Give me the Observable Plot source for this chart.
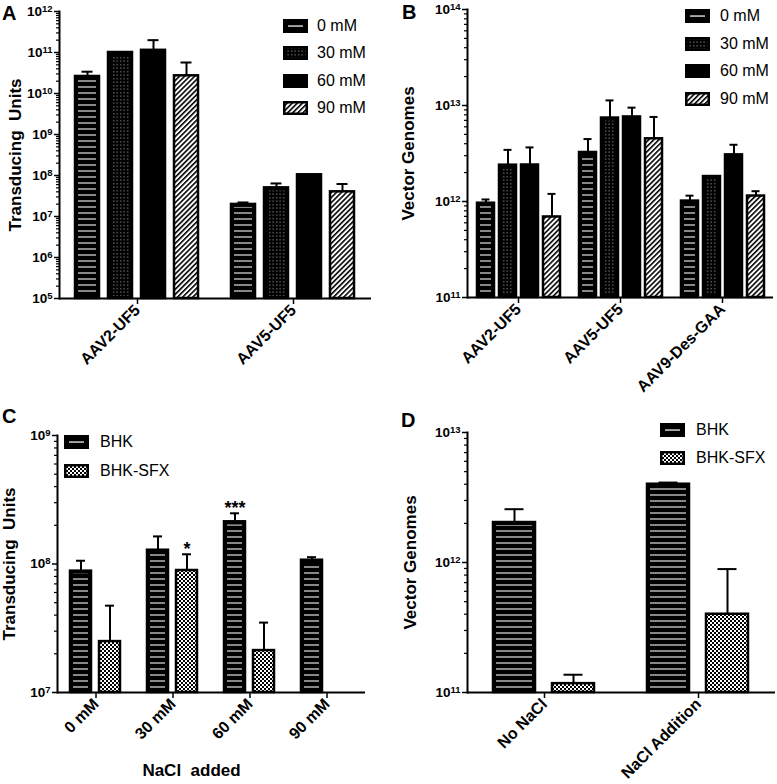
<!DOCTYPE html>
<html><head><meta charset="utf-8">
<script src="https://cdn.jsdelivr.net/npm/d3@7"></script>
<script src="https://cdn.jsdelivr.net/npm/@observablehq/plot@0.6"></script>
<style>
body{margin:0;background:#fff;font-family:"Liberation Sans",Arial,sans-serif;color:#000;}
#root{position:relative;width:777px;height:784px;overflow:hidden;background:#fff;}
.letter{position:absolute;font-weight:bold;font-size:20px;line-height:20px;}
.lgtext{position:absolute;font-size:16px;line-height:16px;white-space:nowrap;}
svg{overflow:visible;}
</style></head>
<body><div id="root">
<svg width="0" height="0" style="position:absolute"><defs>
<pattern id="p-lines" patternUnits="userSpaceOnUse" width="6" height="6"><rect x="0" y="2.4" width="6" height="1.2" fill="#e0e0e0"/></pattern>
<pattern id="p-dots" patternUnits="userSpaceOnUse" width="3.5" height="3.5"><rect x="1.2" y="1.2" width="1" height="1" fill="#c8c8c8"/></pattern>
<pattern id="p-dots-full" patternUnits="userSpaceOnUse" width="3.5" height="3.5"><rect width="3.5" height="3.5" fill="#000"/><rect x="1.2" y="1.2" width="1" height="1" fill="#c8c8c8"/></pattern>
<pattern id="p-hatch" patternUnits="userSpaceOnUse" width="3.6" height="3.6" patternTransform="rotate(45)"><rect width="3.6" height="3.6" fill="#fff"/><rect x="0" y="0" width="1.6" height="3.6" fill="#000"/></pattern>
<pattern id="p-check" patternUnits="userSpaceOnUse" width="4" height="4"><rect width="4" height="4" fill="#fff"/><rect x="0" y="0" width="2" height="2" fill="#000"/><rect x="2" y="2" width="2" height="2" fill="#000"/></pattern>
</defs></svg>
</div>
<script>
// ---------- DATA ----------
const seriesNaCl = ["0 mM", "30 mM", "60 mM", "90 mM"];
const fillNaCl = ["black", "black", "black", "url(#p-hatch)"];
const legendFillNaCl = ["black", "url(#p-dots-full)", "black", "url(#p-hatch)"];
const overlayNaCl = ["url(#p-lines)", "url(#p-dots)", null, null];
const seriesCell = ["BHK", "BHK-SFX"];
const fillCell = ["black", "url(#p-check)"];
const overlayCell = ["url(#p-lines)", null];

// Panel A: Transducing Units
const groupsA = ["AAV2-UF5", "AAV5-UF5"];
const meanA_AAV2 = [2.6e10, 1.0e11, 1.13e11, 2.7e10];
const errA_AAV2  = [3.4e10, 1.03e11, 2.0e11, 5.7e10];
const meanA_AAV5 = [1.97e7, 5.0e7, 1.04e8, 4.0e7];
const errA_AAV5  = [2.2e7, 6.4e7, null, 6.2e7];
const domainA = [1e5, 1e12];

// Panel B: Vector Genomes
const groupsB = ["AAV2-UF5", "AAV5-UF5", "AAV9-Des-GAA"];
const meanB_AAV2 = [9.6e11, 2.39e12, 2.4e12, 6.9e11];
const errB_AAV2  = [1.05e12, 3.45e12, 3.66e12, 1.2e12];
const meanB_AAV5 = [3.24e12, 7.4e12, 7.6e12, 4.5e12];
const errB_AAV5  = [4.47e12, 1.13e13, 9.5e12, 7.6e12];
const meanB_AAV9 = [1.01e12, 1.82e12, 3.06e12, 1.14e12];
const errB_AAV9  = [1.15e12, null, 3.9e12, 1.28e12];
const domainB = [1e11, 1e14];

// Panel C: Transducing Units vs NaCl added
const groupsC = ["0 mM", "30 mM", "60 mM", "90 mM"];
const meanC_BHK = [8.8e7, 1.28e8, 2.13e8, 1.07e8];
const errC_BHK  = [1.06e8, 1.64e8, 2.48e8, 1.13e8];
const meanC_SFX = [2.49e7, 8.9e7, 2.12e7, null];
const errC_SFX  = [4.74e7, 1.19e8, 3.5e7, null];
const starGroupsC = ["30 mM", "60 mM"];
const starSeriesC = ["BHK-SFX", "BHK"];
const starLabelsC = ["*", "***"];
const domainC = [1e7, 1e9];

// Panel D: Vector Genomes
const groupsD = ["No NaCl", "NaCl Addition"];
const meanD_BHK = [2.03e12, 4.0e12];
const errD_BHK  = [2.57e12, 4.12e12];
const meanD_SFX = [1.17e11, 4.0e11];
const errD_SFX  = [1.37e11, 8.9e11];
const domainD = [1e11, 1e13];

// ---------- BUILD ----------
const root = document.getElementById("root");
const svgNS = "http://www.w3.org/2000/svg";

function rowsByGroup(groups, series, means, errs) {
  return groups.flatMap((g, i) => series.map((s, j) => ({group: g, series: s, value: means[i][j], err: errs[i][j]})))
    .filter(d => d.value != null);
}
function rowsBySeries(groups, series, means, errs) {
  return series.flatMap((s, j) => groups.map((g, i) => ({group: g, series: s, value: means[j][i], err: errs[j][i]})))
    .filter(d => d.value != null);
}

function setSize(sel, svg, size) {
  svg.querySelectorAll(sel).forEach(g => {
    g.setAttribute("font-size", size);
    g.querySelectorAll("text").forEach(t => t.setAttribute("font-size", size));
  });
}

function panel(cfg) {
  const {groups, series, fills, overlays, rows, domain, cap, pi, po, layout, yLabel, yLabelOffset, fxLabel, stars} = cfg;
  const lo = Math.round(Math.log10(domain[0])), hi = Math.round(Math.log10(domain[1]));
  const majors = d3.range(lo, hi + 1).map(e => Math.pow(10, e));
  const minors = d3.range(lo, hi).flatMap(e => d3.range(2, 10).map(k => k * Math.pow(10, e)));
  const withErr = rows.filter(d => d.err != null);
  const marks = [
    Plot.barY(rows, {fx: "group", x: "series", y1: domain[0], y2: "value", fill: "series", stroke: "black", strokeWidth: 2.5})
  ];
  series.forEach((s, j) => {
    if (!overlays[j]) return;
    marks.push(Plot.barY(rows.filter(d => d.series === s), {fx: "group", x: "series", y1: domain[0], y2: "value",
      fill: overlays[j], insetLeft: 3, insetRight: 3, insetTop: 3, insetBottom: 2}));
  });
  marks.push(
    Plot.ruleX(withErr, {fx: "group", x: "series", y1: "value", y2: "err", strokeWidth: 2}),
    Plot.tickY(withErr, {fx: "group", x: "series", y: "err", strokeWidth: 2, insetLeft: cap, insetRight: cap}),
    Plot.ruleY([domain[0]], {strokeWidth: 2}),
    Plot.frame({anchor: "left", facetAnchor: "left", strokeWidth: 2}),
    Plot.axisY(majors, {tickSize: 5, tickPadding: 2, strokeWidth: 1.5,
      tickFormat: d => "10^" + Math.round(Math.log10(d)),
      label: yLabel, labelAnchor: "center", labelOffset: yLabelOffset, labelArrow: "none"}),
    Plot.axisY(minors, {tickSize: 3, strokeWidth: 1.2, tickFormat: () => "", label: null}),
    Plot.axisFx({anchor: "bottom", tickRotate: -45, tickSize: 6, tickPadding: 3, strokeWidth: 1.5,
      label: fxLabel || null, labelAnchor: "center", labelOffset: layout.fxLabelOffset || 80, labelArrow: "none"})
  );
  if (stars) {
    marks.push(Plot.text(stars, {fx: "group", x: "series", y: "y", text: "label", dy: -5, fontSize: 18, fontWeight: "bold"}));
  }
  const svg = Plot.plot({
    width: layout.w, height: layout.h,
    marginLeft: layout.ml, marginTop: layout.mt, marginRight: layout.mr, marginBottom: layout.mb,
    style: {fontFamily: "'Liberation Sans', Arial, sans-serif", fontSize: "13px", fontWeight: "bold", color: "black", background: "transparent", overflow: "visible"},
    fx: {domain: groups, padding: 0, label: null},
    x: {domain: series, paddingInner: pi, paddingOuter: po, axis: null},
    y: {type: "log", domain},
    color: {domain: series, range: fills},
    marks
  });
  setSize('[aria-label="y-axis tick label"]', svg, "13.5px");
  setSize('[aria-label="fx-axis tick label"]', svg, "16px");
  setSize('[aria-label="y-axis label"], [aria-label="fx-axis label"]', svg, "17px");
  // superscript exponents
  svg.querySelectorAll('[aria-label="y-axis tick label"] text').forEach(t => {
    const m = /^10\^(\d+)$/.exec(t.textContent);
    if (!m) return;
    t.textContent = "10";
    const ts = document.createElementNS(svgNS, "tspan");
    ts.setAttribute("dy", "-0.45em");
    ts.setAttribute("font-size", "9.5px");
    ts.textContent = m[1];
    t.appendChild(ts);
  });
  if (layout.fxLabelDx) {
    svg.querySelectorAll('[aria-label="fx-axis label"]').forEach(g => {
      const tr = g.getAttribute("transform") || "";
      g.setAttribute("transform", `translate(${layout.fxLabelDx},0) ${tr}`);
    });
  }
  svg.style.position = "absolute";
  svg.style.left = layout.left + "px";
  svg.style.top = layout.top + "px";
  root.appendChild(svg);
}

function letter(txt, left, top) {
  const d = document.createElement("div");
  d.className = "letter"; d.textContent = txt;
  d.style.left = left + "px"; d.style.top = top + "px";
  root.appendChild(d);
}

function legend(series, fills, stripe, x, y0, step, textX) {
  series.forEach((s, i) => {
    const cy = y0 + i * step;
    const sw = document.createElementNS(svgNS, "svg");
    sw.setAttribute("width", 25); sw.setAttribute("height", 14);
    sw.style.position = "absolute"; sw.style.left = x + "px"; sw.style.top = (cy - 7) + "px";
    const r = document.createElementNS(svgNS, "rect");
    r.setAttribute("x", 1.25); r.setAttribute("y", 1.25); r.setAttribute("width", 22.5); r.setAttribute("height", 11.5);
    r.setAttribute("fill", fills[i]); r.setAttribute("stroke", "black"); r.setAttribute("stroke-width", 2.5);
    sw.appendChild(r);
    if (s === stripe) {
      const l = document.createElementNS(svgNS, "rect");
      l.setAttribute("x", 5); l.setAttribute("y", 6.4); l.setAttribute("width", 15); l.setAttribute("height", 1.3);
      l.setAttribute("fill", "#eee");
      sw.appendChild(l);
    }
    root.appendChild(sw);
    const t = document.createElement("div");
    t.className = "lgtext"; t.textContent = s;
    t.style.left = textX + "px"; t.style.top = (cy - 8) + "px";
    root.appendChild(t);
  });
}

// Panel A
panel({
  groups: groupsA, series: seriesNaCl, fills: fillNaCl, overlays: overlayNaCl,
  rows: rowsByGroup(groupsA, seriesNaCl, [meanA_AAV2, meanA_AAV5], [errA_AAV2, errA_AAV5]),
  domain: domainA, cap: 6.5, pi: 0.26, po: 0.45,
  yLabel: "Transducing  Units", yLabelOffset: 51,
  layout: {left: 0, top: 0, w: 390, h: 390, ml: 59, mt: 11, mr: 19, mb: 92}
});
// Panel B
panel({
  groups: groupsB, series: seriesNaCl, fills: fillNaCl, overlays: overlayNaCl,
  rows: rowsByGroup(groupsB, seriesNaCl, [meanB_AAV2, meanB_AAV5, meanB_AAV9], [errB_AAV2, errB_AAV5, errB_AAV9]),
  domain: domainB, cap: 4.5, pi: 0.24, po: 0.405,
  yLabel: "Vector Genomes", yLabelOffset: 66,
  layout: {left: 390, top: 0, w: 387, h: 390, ml: 77, mt: 9, mr: 4, mb: 93}
});
// Panel C
const rowsC = rowsBySeries(groupsC, seriesCell, [meanC_BHK, meanC_SFX], [errC_BHK, errC_SFX]);
const starsC = starGroupsC.map((g, i) => ({group: g, series: starSeriesC[i], label: starLabelsC[i],
  y: rowsC.find(d => d.group === g && d.series === starSeriesC[i]).err}));
panel({
  groups: groupsC, series: seriesCell, fills: fillCell, overlays: overlayCell,
  rows: rowsC, stars: starsC,
  domain: domainC, cap: 6, pi: 0.26, po: 0.457,
  yLabel: "Transducing  Units", yLabelOffset: 55, fxLabel: "NaCl  added",
  layout: {left: 0, top: 390, w: 390, h: 394, ml: 57, mt: 45, mr: 25, mb: 92, fxLabelDx: -20, fxLabelOffset: 83}
});
// Panel D
panel({
  groups: groupsD, series: seriesCell, fills: fillCell, overlays: overlayCell,
  rows: rowsBySeries(groupsD, seriesCell, [meanD_BHK, meanD_SFX], [errD_BHK, errD_SFX]),
  domain: domainD, cap: 11.5, pi: 0.283, po: 0.425,
  yLabel: "Vector Genomes", yLabelOffset: 64,
  layout: {left: 390, top: 390, w: 387, h: 394, ml: 77, mt: 42, mr: 2, mb: 92}
});

letter("A", 2, 2.5);
letter("B", 402, 2);
letter("C", 2, 405.5);
letter("D", 401, 409.5);

legend(seriesNaCl, legendFillNaCl, "0 mM", 283, 26, 27.3, 317);
legend(seriesNaCl, legendFillNaCl, "0 mM", 685, 16, 27.7, 720);
legend(seriesCell, fillCell, "BHK", 64, 442, 29, 100);
legend(seriesCell, fillCell, "BHK", 660, 430, 28, 696);
</script>
</body></html>
